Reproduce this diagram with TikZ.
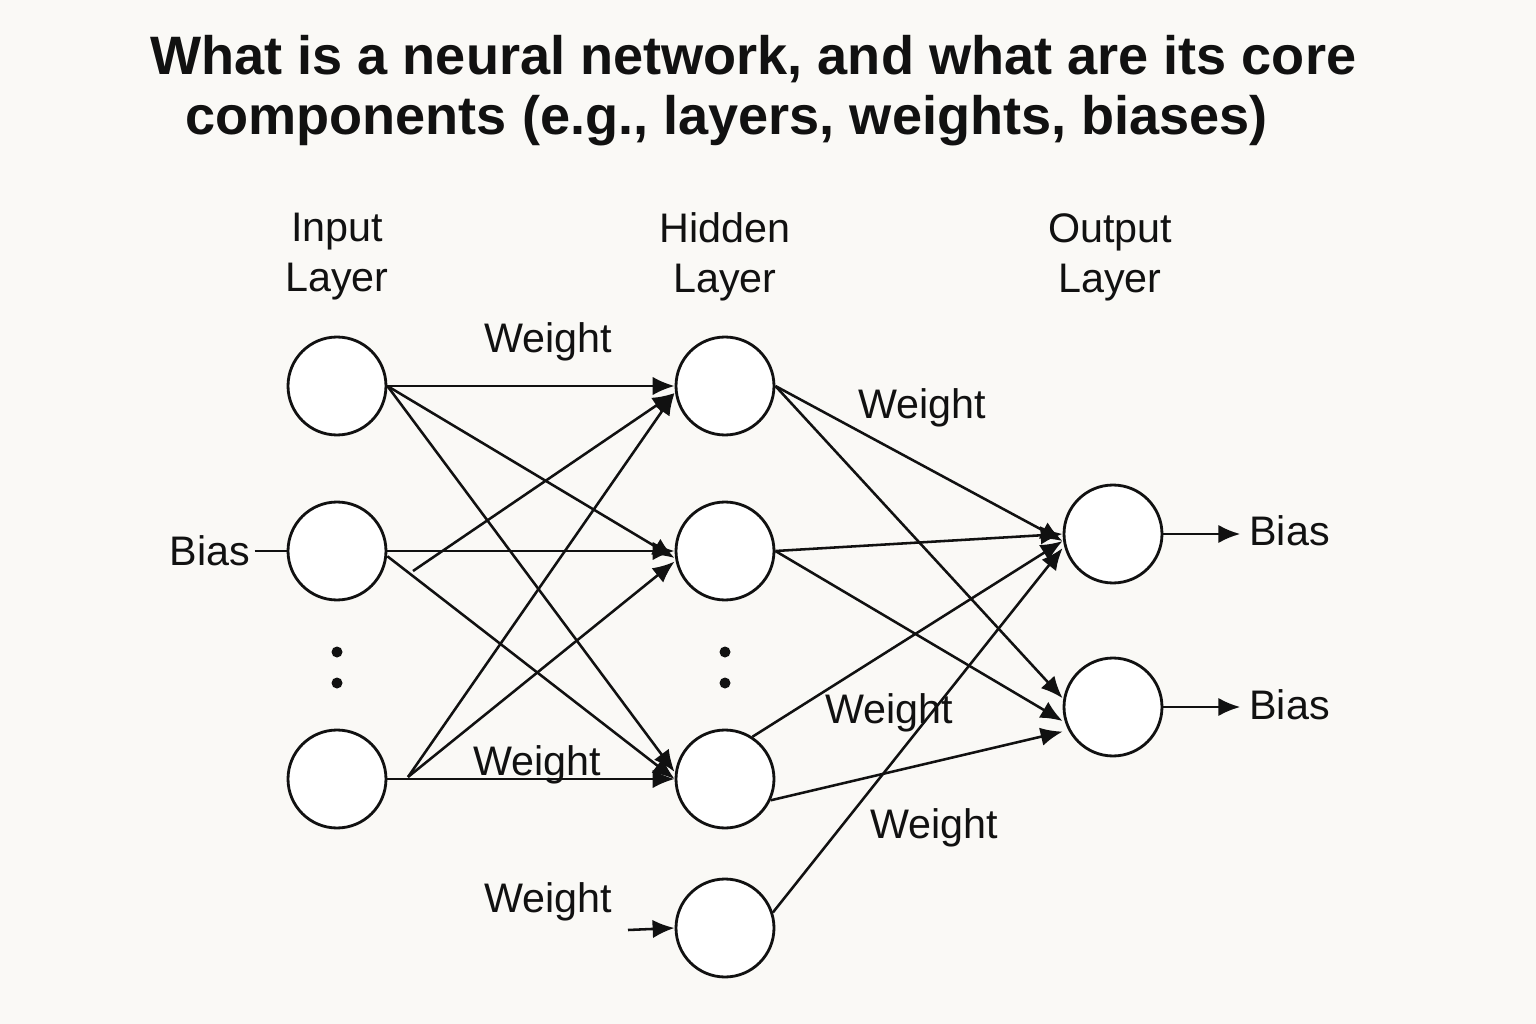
\documentclass[tikz,border=0pt]{standalone}
\usepackage{fontspec}
\setmainfont{Liberation Sans}
\usetikzlibrary{arrows.meta}
\definecolor{bg}{HTML}{FAF9F6}
\definecolor{ink}{HTML}{111111}
\tikzset{
  neuron/.style={circle, draw=ink, line width=1.6pt, fill=white, minimum size=1.96cm, inner sep=0pt},
  conn/.style={line width=1.45pt, draw=ink, -{Latex[length=12.5pt,width=10.5pt]}},
  plain/.style={line width=1.45pt, draw=ink},
  lbl/.style={font=\fontsize{23.5}{28.5}\selectfont, text=ink, inner sep=0pt},
  ttl/.style={font=\fontsize{30.8}{34}\selectfont\bfseries, text=ink, inner sep=0pt, anchor=west},
  dot/.style={circle, fill=ink, inner sep=0pt, minimum size=0.22cm}
}
\begin{document}
\begin{tikzpicture}[x=0.02cm,y=-0.02cm]
\fill[bg] (0,0) rectangle (1536,1024);
\useasboundingbox (0,0) rectangle (1536,1024);
% title
\node[ttl] (t1) at (150,59) {What is a neural network, and what are its core};
\node[ttl] (t2) at (185,121) {components (e.g., layers, weights, biases)};
% layer labels
\node[lbl, align=center] (li) at (337,257) {Input\\Layer};
\node[lbl, align=center] (lh) at (725,257) {Hidden\\Layer};
\node[lbl, align=center] (lo) at (1110,257) {Output\\Layer};
% neurons
\node[neuron] (I1) at (337,386) {};
\node[neuron] (I2) at (337,551) {};
\node[neuron] (I3) at (337,779) {};
\node[neuron] (H1) at (725,386) {};
\node[neuron] (H2) at (725,551) {};
\node[neuron] (H3) at (725,779) {};
\node[neuron] (H4) at (725,928) {};
\node[neuron] (O1) at (1113,534) {};
\node[neuron] (O2) at (1113,707) {};
% dots
\node[dot] (d1) at (337,652) {};
\node[dot] (d2) at (337,683) {};
\node[dot] (d3) at (725,652) {};
\node[dot] (d4) at (725,683) {};
% odd start points
\coordinate (s2) at (413,571);
\coordinate (s3) at (408,777);
\coordinate (w4) at (628,930);
% input -> hidden
\draw[conn] (I1.east) -- (H1.west);
\draw[conn] (I1.east) -- ([yshift=-4]H2.west);
\draw[conn] (I1.east) -- ([yshift=4]H3.west);
\draw[conn] (I2.east) -- (H2.west);
\draw[conn] ([yshift=-3]I2.east) -- (H3.west);
\draw[conn] (s2) -- ([yshift=-4]H1.west);
\draw[conn] (I3.east) -- (H3.west);
\draw[conn] (s3) -- ([yshift=-4]H1.west);
\draw[conn] (s3) -- ([yshift=-6]H2.west);
% hidden -> output
\draw[conn] (H1.east) -- ([yshift=-4]O1.west);
\draw[conn] (H1.east) -- ([yshift=5]O2.west);
\draw[conn] (H2.east) -- (O1.west);
\draw[conn] (H2.east) -- ([yshift=-8]O2.west);
\draw[conn] (H3.57) -- ([yshift=-4]O1.west);
\draw[conn] (H3.-25) -- ([yshift=-14]O2.west);
\draw[conn] (H4.18) -- ([yshift=-8]O1.west);
\draw[conn] (w4) -- (H4.west);
% biases
\node[lbl] (bi) at (210,551) {Bias};
\draw[plain] (bi.east) ++(4,0) -- (I2.west);
\node[lbl, anchor=west] (bo1) at (1249,531) {Bias};
\node[lbl, anchor=west] (bo2) at (1249,705) {Bias};
\draw[conn] (O1.east) -- ([xshift=-5pt]bo1.west |- O1.east);
\draw[conn] (O2.east) -- ([xshift=-5pt]bo2.west |- O2.east);
% weight labels
\node[lbl] (wa) at (548,342) {Weight};
\node[lbl] (wb) at (922,408) {Weight};
\node[lbl] (wc) at (537,765) {Weight};
\node[lbl] (wd) at (889,713) {Weight};
\node[lbl] (we) at (934,828) {Weight};
\node[lbl] (wf) at (548,902) {Weight};
\end{tikzpicture}
\end{document}
